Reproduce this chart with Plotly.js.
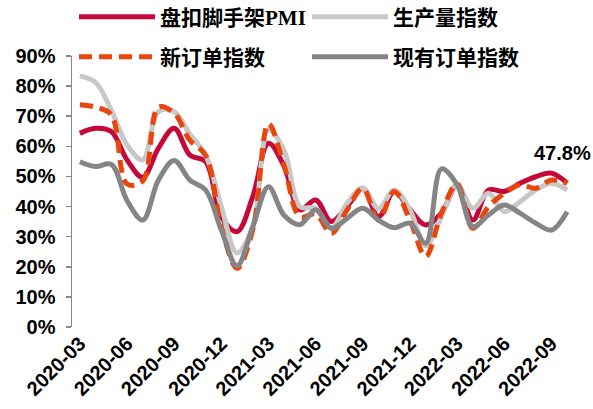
<!DOCTYPE html>
<html><head><meta charset="utf-8">
<script src="https://cdn.plot.ly/plotly-3.0.1.min.js"></script>
<style>html,body{margin:0;padding:0;background:#fff}</style>
</head><body><div id="chart" style="width:593px;height:409px"></div>
<script>
const months = ["2020-03","2020-04","2020-05","2020-06","2020-07","2020-08","2020-09","2020-10","2020-11","2020-12","2021-01","2021-02","2021-03","2021-04","2021-05","2021-06","2021-07","2021-08","2021-09","2021-10","2021-11","2021-12","2022-01","2022-02","2022-03","2022-04","2022-05","2022-06","2022-07","2022-08","2022-09","2022-10"];
const tickLabels = ["2020-03","2020-06","2020-09","2020-12","2021-03","2021-06","2021-09","2021-12","2022-03","2022-06","2022-09"];
const pmi = [64.3,66.0,64.9,55.5,49.7,59.4,66.0,57.1,54.9,36.6,31.7,43.3,61.0,53.3,38.9,42.2,35.0,40.0,46.1,36.6,45.0,39.0,33.9,37.8,47.2,35.5,45.5,45.0,47.7,49.9,51.1,47.8];
const production = [83.4,81.2,72.0,60.5,55.5,71.5,71.5,64.0,57.1,40.0,24.6,33.3,65.5,58.5,40.0,39.4,32.8,41.1,46.1,39.4,45.5,38.9,27.0,36.6,47.2,39.4,44.4,38.3,41.6,45.5,47.7,45.5];
const newOrders = [73.8,73.0,70.5,47.5,48.5,73.0,71.0,62.0,57.0,33.3,19.5,32.2,67.5,53.5,36.6,37.5,31.1,38.9,46.0,35.5,45.0,35.5,23.4,37.8,47.5,32.8,40.0,44.4,47.2,46.1,48.8,47.7];
const backlog = [54.9,53.3,54.0,42.0,35.5,48.8,55.3,48.8,45.5,32.2,20.3,33.3,46.6,37.0,34.0,38.9,32.8,36.1,39.4,35.5,33.0,34.5,27.8,52.5,47.2,33.3,37.2,40.5,37.8,34.5,32.2,38.3];
const seriesNames = ["盘扣脚手架PMI","生产量指数","新订单指数","现有订单指数"];
const lastLabel = "47.8%";

const xIdx = months.map((_, i) => i);
const labelPos = tickLabels.map(l => months.indexOf(l));
const boundaryPos = labelPos.map(v => v - 0.5);

const latin = "Liberation Sans, Arial, sans-serif";
const legFont = {family: "Liberation Serif, Noto Sans CJK SC, serif", size: 21, color: "#000", weight: 700};

function tr(y, name, color, dash, leg) {
  return {x: xIdx, y: y, name: name, type: "scatter", mode: "lines", text: months,
    line: {color: color, width: 5, shape: "spline", smoothing: 1, dash: dash},
    legend: leg, hovertemplate: "%{text}: %{y}%<extra>" + name + "</extra>"};
}
const data = [
  tr(pmi, seriesNames[0], "#C4083A", "solid", "legend"),
  tr(production, seriesNames[1], "#C8C8C8", "solid", "legend2"),
  tr(newOrders, seriesNames[2], "#E8460C", "13px,7px", "legend3"),
  tr(backlog, seriesNames[3], "#858585", "solid", "legend4")
];
function leg(x, y) {
  return {x: x, y: y, xref: "container", yref: "container", xanchor: "left", yanchor: "middle",
    orientation: "h", font: legFont, itemwidth: 76, bgcolor: "rgba(0,0,0,0)", borderwidth: 0};
}
const layout = {
  width: 593, height: 409,
  margin: {l: 72, r: 18, t: 56, b: 82, autoexpand: false},
  paper_bgcolor: "#fff", plot_bgcolor: "#fff",
  showlegend: true,
  legend: leg(74/593, 1 - 17/409),
  legend2: leg(307/593, 1 - 17/409),
  legend3: leg(74/593, 1 - 57/409),
  legend4: leg(307/593, 1 - 57/409),
  xaxis: {range: [-0.5, 31.5], tickmode: "array", tickvals: labelPos, ticktext: tickLabels,
    tickangle: -45, ticks: "", showgrid: false, zeroline: false, showline: false, automargin: false,
    tickfont: {family: latin, size: 20, color: "#000", weight: 700}},
  xaxis2: {overlaying: "x", matches: "x", anchor: "y", side: "bottom", range: [-0.5, 31.5],
    tickmode: "array", tickvals: boundaryPos, showticklabels: false, ticks: "outside", ticklen: 5,
    tickcolor: "#888", tickwidth: 1.5, showline: true, linecolor: "#888", linewidth: 1.5,
    showgrid: false, zeroline: false},
  yaxis: {range: [0, 90], tickmode: "linear", tick0: 0, dtick: 10, ticksuffix: "%",
    ticks: "outside", ticklen: 5, tickcolor: "#888", tickwidth: 1.5, showline: true,
    linecolor: "#888", linewidth: 1.5, showgrid: false, zeroline: false, automargin: false,
    ticklabelstandoff: 6,
    tickfont: {family: latin, size: 20, color: "#000", weight: 700}},
  annotations: [{x: xIdx[xIdx.length - 1], y: pmi[pmi.length - 1], xref: "x", yref: "y",
    text: lastLabel, showarrow: false, xshift: -5, yshift: 30,
    font: {family: latin, size: 20, color: "#000", weight: 700}}]
};
Plotly.newPlot("chart", data, layout, {displayModeBar: false, staticPlot: true});
</script></body></html>
